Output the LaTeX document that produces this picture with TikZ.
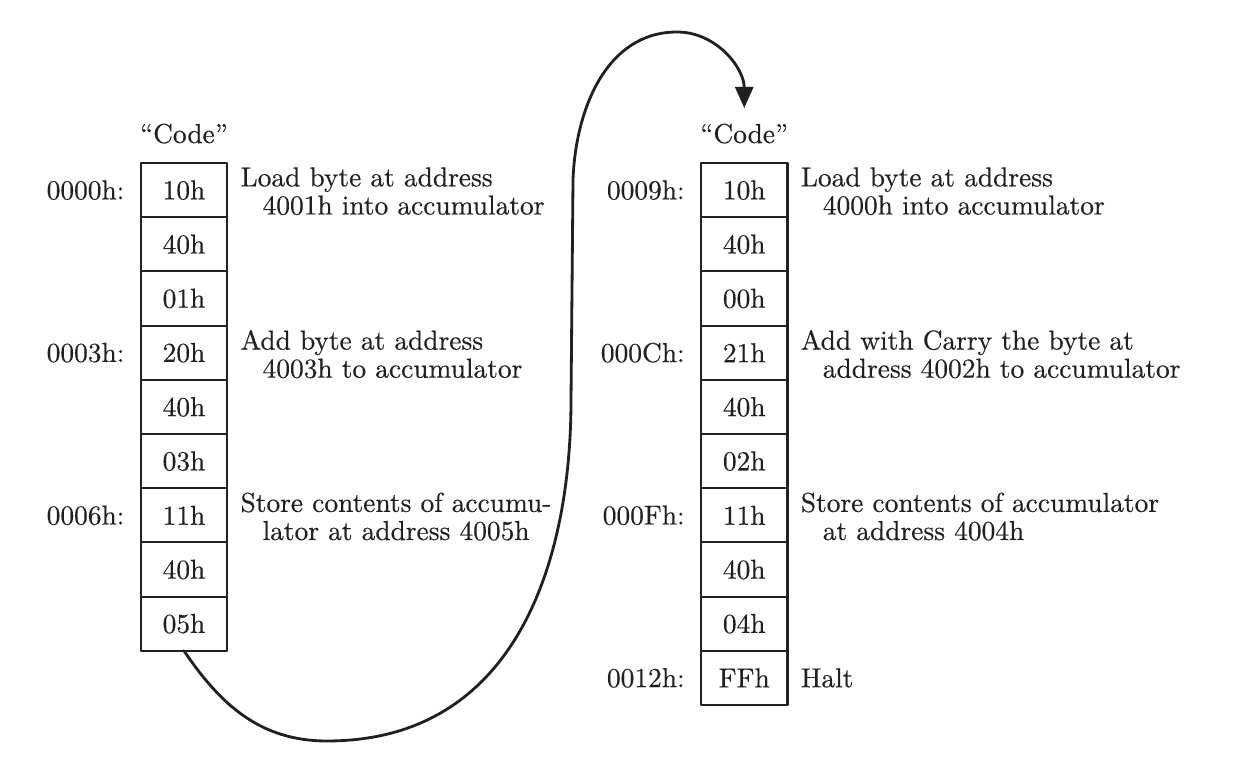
\documentclass[tikz,border=0pt]{standalone}
\usepackage{fontspec}
\setmainfont{lmroman10-regular.otf}[FakeBold=0.4]
\usetikzlibrary{arrows.meta,calc,positioning}
\definecolor{ink}{HTML}{231F20}

\begin{document}
\begin{tikzpicture}[
		line cap=round, line join=round,
		>={Triangle[length=4.2mm,width=3.6mm]},
		every node/.style={font=\fontsize{15.6pt}{16pt}\selectfont, text=ink},
		cell/.style={draw=ink, line width=1.2pt, minimum width=1.73cm,
			minimum height=1.084cm, inner sep=0pt, outer sep=0pt},
		addr/.style={inner sep=0pt},
		note/.style={inner sep=0pt, align=left, anchor=north west},
		jump/.style={draw=ink, line width=1.6pt, ->}
		]
		
		% ---------- Frame ----------
		\useasboundingbox (0,0) rectangle (24.8,15.48);
		
		% ---------- Parameters ----------
		\def\cellh{1.084}   % height of one memory cell
		\def\ytop{12.22}    % top edge of both columns
		\def\xL{3.68}       % centre of left column
		\def\xR{14.885}     % centre of right column
		\def\gap{0.26}      % cell -> comment
		\def\ind{0.44cm}    % indent of second comment line
		
		% ---------- Left column ----------
		\foreach \v [count=\i] in {10h,40h,01h,20h,40h,03h,11h,40h,05h}
		\node[cell] (L\i) at (\xL,{\ytop-(\i-0.5)*\cellh}) {\v};
		\node[anchor=base] (codeL) at ([yshift=0.4cm]L1.north) {“Code”};
		
		\node[addr, left=0.32cm of L1] (adrL1) {0000h:};
		\node[addr, left=0.32cm of L4] (adrL4) {0003h:};
		\node[addr, left=0.32cm of L7] (adrL7) {0006h:};
		
		\node[note] (noteL1) at ([xshift=\gap cm, yshift=-0.08cm]L1.north east)
		{Load byte at address\\\hspace*{\ind}4001h into accumulator};
		\node[note] (noteL4) at ([xshift=\gap cm, yshift=-0.08cm]L4.north east)
		{Add byte at address\\\hspace*{\ind}4003h to accumulator};
		\node[note] (noteL7) at ([xshift=\gap cm, yshift=-0.08cm]L7.north east)
		{Store contents of accumu-\\\hspace*{\ind}lator at address 4005h};
		
		% ---------- Right column ----------
		\foreach \v [count=\i] in {10h,40h,00h,21h,40h,02h,11h,40h,04h,FFh}
		\node[cell] (R\i) at (\xR,{\ytop-(\i-0.5)*\cellh}) {\v};
		\node[anchor=base] (codeR) at ([yshift=0.4cm]R1.north) {“Code”};
		
		\node[addr, left=0.32cm of R1] (adrR1) {0009h:};
		\node[addr, left=0.32cm of R4] (adrR4) {000Ch:};
		\node[addr, left=0.32cm of R7] (adrR7) {000Fh:};
		\node[addr, left=0.32cm of R10] (adrR10) {0012h:};
		
		\node[note] (noteR1) at ([xshift=\gap cm, yshift=-0.08cm]R1.north east)
		{Load byte at address\\\hspace*{\ind}4000h into accumulator};
		\node[note] (noteR4) at ([xshift=\gap cm, yshift=-0.08cm]R4.north east)
		{Add with Carry the byte at\\\hspace*{\ind}address 4002h to accumulator};
		\node[note] (noteR7) at ([xshift=\gap cm, yshift=-0.08cm]R7.north east)
		{Store contents of accumulator\\\hspace*{\ind}at address 4004h};
		\node[addr, right=\gap cm of R10] (noteR10) {Halt};
		
		% ---------- Jump from end of first block to second block ----------
		\coordinate (low)   at (6.54,0.66);
		\coordinate (rise)  at (11.42,7.48);
		\coordinate (upper) at (11.46,11.88);
		\coordinate (top)   at (13.54,14.84);
		\coordinate (tip)   at ([yshift=1.1cm]R1.north);
		
		\draw[jump] (L9.south) to[out=-56,in=180] (low)
		.. controls +(3.8,0) and +(0,-3.2) .. (rise) -- (upper)
		to[out=88,in=180] (top) to[out=0,in=90] (tip);
		
	\end{tikzpicture}
\end{document}
